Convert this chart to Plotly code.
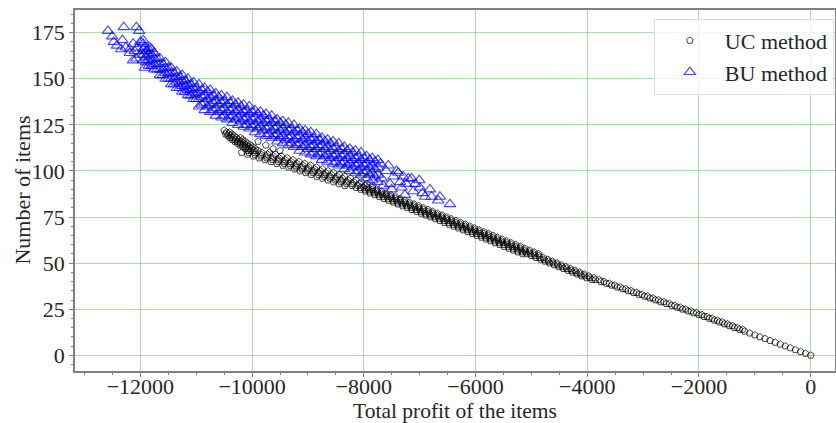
import plotly.graph_objects as go

# ---------------- UC method data ----------------
uc_items = [0, 1, 2, 3, 4, 5, 6, 7, 8, 9, 10, 11, 12, 13, 14, 15, 16, 17, 18, 19,
            20, 21, 22, 23, 24, 25, 26, 27, 28, 29, 30, 31, 32, 33, 34, 35, 36, 37, 38, 39,
            40, 41, 42, 43, 44, 45, 46, 47, 48, 49, 50, 51, 52, 53, 54, 55, 56, 57, 58, 59,
            60, 61, 62, 63, 64, 65, 66, 67, 68, 69, 70, 71, 72, 73, 74, 75, 76, 77, 78, 79,
            80, 81, 82, 83, 84, 85, 86, 87, 88, 89, 90, 91, 92, 93, 94, 95, 96, 97, 98, 99,
            100, 101, 102, 103, 104, 105, 106, 107, 108, 109, 110, 111, 112, 113, 114, 115,
            116, 117, 118, 119, 120, 121, 122]
uc_profit = [0, -91, -182, -273, -364, -455, -545, -636, -727, -818, -909, -1000, -1091,
             -1182, -1273, -1364, -1455, -1545, -1636, -1727, -1818, -1909, -2000, -2098,
             -2195, -2293, -2390, -2488, -2585, -2683, -2780, -2878, -2976, -3073, -3171,
             -3268, -3366, -3463, -3561, -3659, -3756, -3854, -3951, -4041, -4122, -4204,
             -4286, -4367, -4449, -4531, -4612, -4694, -4776, -4857, -4939, -5020, -5102,
             -5184, -5265, -5347, -5429, -5510, -5592, -5673, -5755, -5837, -5918, -6000,
             -6083, -6167, -6250, -6333, -6417, -6500, -6583, -6667, -6750, -6833, -6917,
             -7000, -7083, -7167, -7250, -7333, -7417, -7500, -7583, -7667, -7750, -7833,
             -7917, -8000, -8100, -8200, -8300, -8400, -8500, -8600, -8700, -8800, -8900,
             -9000, -9105, -9210, -9316, -9421, -9526, -9632, -9737, -9842, -9947, -10023,
             -10069, -10115, -10162, -10208, -10254, -10300, -10340, -10380, -10420, -10460,
             -10500]

uc_extra_items = [14, 15, 16, 17, 18, 19, 20, 21, 22, 23, 24, 25, 26, 27, 28, 29, 30, 31,
                  32, 33, 34, 35, 36, 37, 38, 39, 40, 41, 42, 43, 44, 45, 46, 47, 48, 49,
                  50, 51, 52, 53, 54, 55, 56, 57, 58, 59, 60, 61, 62, 63, 64, 65, 66, 67,
                  68, 69, 70, 71, 72, 73, 74, 75, 76, 77, 78, 79, 80, 81, 82, 83, 84, 85,
                  86, 87, 88, 89, 90, 91, 92, 93, 94, 95, 96, 97, 98, 99, 100, 101, 102,
                  103, 104, 105, 106, 107, 108, 109, 110, 111, 112, 113, 114, 115, 116,
                  117, 118, 119, 120, 121]
uc_extra_profits = [
    [-1218], [-1309], [-1400], [-1490], [-1581], [-1672], [-1763], [-1854], [-1945],
    [-2043], [-2140], [-2238], [-2335], [-2433], [-2530], [-2628], [-2725], [-2823],
    [-2921], [-3018], [-3116], [-3213], [-3311], [-3408], [-3506], [-3604], [-3701],
    [-3784, -3914], [-3881, -4011], [-3971, -4101], [-4052, -4182], [-4134, -4264],
    [-4216, -4346], [-4297, -4427], [-4379, -4509], [-4461, -4591], [-4542, -4672],
    [-4624, -4754], [-4706, -4836], [-4787, -4917], [-4869, -4999],
    [-4950, -5080, -4870, -5160], [-5032, -5162, -4952, -5242], [-5114, -5244, -5034, -5324],
    [-5195, -5325, -5115, -5405], [-5277, -5407, -5197, -5487], [-5359, -5489, -5279, -5569],
    [-5440, -5570, -5360, -5650], [-5522, -5652, -5442, -5732], [-5603, -5733, -5523, -5813],
    [-5685, -5815, -5605, -5895], [-5767, -5897, -5687, -5977], [-5848, -5978, -5768, -6058],
    [-5930, -6060, -5850, -6140], [-6013, -6143, -5933, -6223], [-6097, -6227, -6017, -6307],
    [-6180, -6310, -6100, -6390], [-6263, -6393, -6183, -6473], [-6347, -6477, -6267, -6557],
    [-6430, -6560, -6350, -6640], [-6513, -6643, -6433, -6723], [-6597, -6727, -6517, -6807],
    [-6680, -6810, -6600, -6890], [-6763, -6893, -6683, -6973], [-6847, -6977, -6767, -7057],
    [-6930, -7060, -6850, -7140], [-7013, -7143, -6933, -7223], [-7097, -7227, -7017, -7307],
    [-7180, -7310, -7100, -7390], [-7263, -7393, -7183, -7473], [-7347, -7477, -7267, -7557],
    [-7430, -7560, -7350, -7640], [-7513, -7643, -7433, -7723], [-7597, -7727, -7517, -7807],
    [-7680, -7810, -7600, -7890], [-7763, -7893, -7683, -7973], [-7847, -7977, -7767, -8057],
    [-7930, -8060, -7850, -8140],
    [-7980, -8210, -7840, -8340], [-8080, -8310, -7940, -8440], [-8180, -8410, -8040, -8540],
    [-8280, -8510, -8140, -8640], [-8380, -8610, -8240, -8740], [-8480, -8710, -8340, -8840],
    [-8580, -8810, -8440, -8940], [-8680, -8910, -8540, -9040], [-8780, -9010, -8640, -9140],
    [-8880, -9110, -8740, -9240], [-8985, -9215, -8845, -9345], [-9090, -9320, -8950, -9450],
    [-9196, -9426, -9056, -9556], [-9301, -9531, -9161, -9661], [-9406, -9636, -9266, -9766],
    [-9512, -9742, -9372, -9872], [-9617, -9847, -9477, -9977], [-9722, -9952, -9582, -10082],
    [-9827, -10057, -9687, -10187],
    [-9963, -10078, -9893], [-10009, -10124, -9939], [-10055, -10170, -9985],
    [-10102, -10217, -10032], [-10148, -10263, -10078], [-10194, -10309, -10124],
    [-10240, -10355, -10170], [-10280, -10395, -10210], [-10320, -10435], [-10360, -10475],
    [-10400],
]
uc_outlier_profit = [-9893, -9754, -9624, -9500]
uc_outlier_items = [116, 114, 112, 111]

# ---------------- BU method data ----------------
bu_top_profit = [-12580, -12505, -12475, -12420, -12345, -12320, -12296, -12260, -12190,
                 -12190, -12130, -12130, -12100, -12070, -12070, -12050, -12022, -12000,
                 -12000, -11950, -11920, -11920, -11880, -11830, -11800]
bu_top_items = [176, 173, 170, 168, 166, 171, 178, 167, 166, 164, 169, 160, 165, 178, 161,
                167, 176, 163, 170, 171, 167, 156, 165, 167, 166]

bu_col_profit = [-11950, -11900, -11850, -11800, -11750, -11700, -11650, -11600, -11550,
                 -11500, -11450, -11400, -11350, -11300, -11250, -11200, -11150, -11100,
                 -11050, -11000, -10950, -10900, -10850, -10800, -10750, -10700, -10650,
                 -10600, -10550, -10500, -10450, -10400, -10350, -10300, -10250, -10200,
                 -10150, -10100, -10050, -10000, -9950, -9900, -9850, -9800, -9750, -9700,
                 -9650, -9600, -9550, -9500, -9450, -9400, -9350, -9300, -9250, -9200,
                 -9150, -9100, -9050, -9000, -8950, -8900, -8850, -8800, -8750, -8700,
                 -8650, -8600, -8550, -8500, -8450, -8400, -8350, -8300, -8250, -8200,
                 -8150, -8100, -8050, -8000, -7950, -7900, -7850, -7800, -7750]
bu_col_items = [
    [160, 163, 166, 169], [159, 162, 165], [157, 160, 163, 166], [157, 160, 163],
    [155, 158, 161, 164], [155, 158, 161], [152, 155, 158, 161], [152, 155, 158],
    [150, 153, 156, 159], [150, 153, 156], [147, 150, 153, 156], [147, 150, 153],
    [145, 148, 151, 154], [145, 148, 151], [143, 146, 149, 152], [143, 146, 149],
    [141, 144, 147, 150], [141, 144, 147], [139, 142, 145, 148], [139, 142, 145],
    [135, 139, 143, 147], [136, 140, 144], [133, 137, 141, 145], [135, 139, 143],
    [132, 136, 140, 144], [133, 137, 141], [130, 134, 138, 142], [132, 136, 140],
    [129, 133, 137, 141], [130, 134, 138], [128, 132, 136, 140], [129, 133, 137],
    [126, 130, 134, 138], [128, 132, 136], [125, 129, 133, 137], [127, 131, 135],
    [124, 128, 132, 136], [125, 129, 133], [123, 127, 131, 135], [124, 128, 132],
    [121, 125, 129, 133], [123, 127, 131], [120, 124, 128, 132], [122, 126, 130],
    [119, 123, 127, 131], [120, 124, 128], [118, 122, 126, 130], [119, 123, 127],
    [116, 120, 124, 128], [118, 122, 126], [115, 119, 123, 127], [117, 121, 125],
    [114, 118, 122, 126], [115, 119, 123], [113, 117, 121, 125], [114, 118, 122],
    [111, 115, 119, 123], [113, 117, 121], [110, 114, 118, 122], [112, 116, 120],
    [109, 113, 117, 121], [110, 114, 118], [108, 112, 116, 120], [109, 113, 117],
    [106, 110, 114, 118], [108, 112, 116], [105, 109, 113, 117], [107, 111, 115],
    [104, 108, 112, 116], [105, 109, 113], [103, 107, 111, 115], [104, 108, 112],
    [101, 105, 109, 113], [103, 107, 111], [100, 104, 108, 112], [102, 106, 110],
    [99, 103, 107, 111], [100, 104, 108], [98, 102, 106, 110], [99, 103, 107],
    [96, 100, 104, 108], [98, 102, 106], [95, 99, 103, 107], [97, 101, 105],
    [94, 98, 102, 106],
]
bu_tail_profit = [-7700, -7680, -7650, -7600, -7560, -7532, -7502, -7470, -7414, -7383,
                  -7350, -7323, -7295, -7264, -7240, -7204, -7145, -7115, -7080, -7008,
                  -6995, -6950, -6906, -6816, -6787, -6668, -6638, -6458]
bu_tail_items = [104, 96, 92, 100, 103, 93, 90, 97, 100, 99, 94, 91, 97, 87, 93, 96, 96,
                 89, 93, 95, 91, 88, 86, 90, 86, 84, 86, 82]

# ---------------- assemble ----------------
uc_x = list(uc_profit)
uc_y = list(uc_items)
for n, row in zip(uc_extra_items, uc_extra_profits):
    for p in row:
        uc_x.append(p)
        uc_y.append(n)
uc_x += uc_outlier_profit
uc_y += uc_outlier_items

bu_x = list(bu_top_profit)
bu_y = list(bu_top_items)
for p, col in zip(bu_col_profit, bu_col_items):
    for n in col:
        bu_x.append(p)
        bu_y.append(n)
bu_x += bu_tail_profit
bu_y += bu_tail_items

FONT = "Liberation Serif"
TXT = "#262626"
SPINE = "#808080"

fig = go.Figure()
fig.add_trace(go.Scatter(
    x=uc_x, y=uc_y, mode="markers", name="UC method",
    marker=dict(symbol="pentagon-open", size=7, color="rgba(0,0,0,0.72)",
                line=dict(width=1)),
))
fig.add_trace(go.Scatter(
    x=bu_x, y=bu_y, mode="markers", name="BU method",
    marker=dict(symbol="triangle-up-open", size=10, color="rgba(0,0,255,0.72)",
                line=dict(width=1.1)),
))

axis_common = dict(
    showline=True, linecolor=SPINE, linewidth=1.5, mirror=True,
    ticks="outside", ticklen=4, tickcolor=SPINE, tickwidth=1,
    showgrid=True, gridcolor="rgba(60,175,60,0.42)", gridwidth=1,
    zeroline=False, automargin=False, tickformat="d",
    tickfont=dict(family=FONT, size=22, color=TXT),
)

fig.update_xaxes(
    range=[-13170, 435], dtick=2000, tick0=0, ticklabelstandoff=-9,
    minor=dict(dtick=500, ticklen=2.5, tickcolor=SPINE, ticks="outside", showgrid=False),
    title=dict(text="Total profit of the items", font=dict(family=FONT, size=21.5, color=TXT),
               standoff=1),
    **axis_common,
)
fig.update_yaxes(
    range=[-8.5, 187.3], dtick=25, tick0=0,
    minor=dict(dtick=5, ticklen=2.5, tickcolor=SPINE, ticks="outside", showgrid=False),
    **axis_common,
)

fig.update_layout(
    width=836, height=423,
    margin=dict(l=75, r=1, t=10, b=52),
    plot_bgcolor="white", paper_bgcolor="white",
    font=dict(family=FONT, color=TXT),
    legend=dict(
        x=0.9985, xanchor="right", y=0.976, yanchor="top",
        bgcolor="rgba(255,255,255,0.8)", bordercolor="#dcdcdc", borderwidth=1,
        font=dict(family=FONT, size=22, color=TXT),
        itemwidth=60, tracegroupgap=0,
    ),
    annotations=[dict(
        text="Number of items", textangle=-90, showarrow=False,
        xref="paper", yref="paper", x=-0.0697, y=0.5, xanchor="center", yanchor="middle",
        font=dict(family=FONT, size=22, color=TXT),
    )],
)

fig.write_html("out.html")
